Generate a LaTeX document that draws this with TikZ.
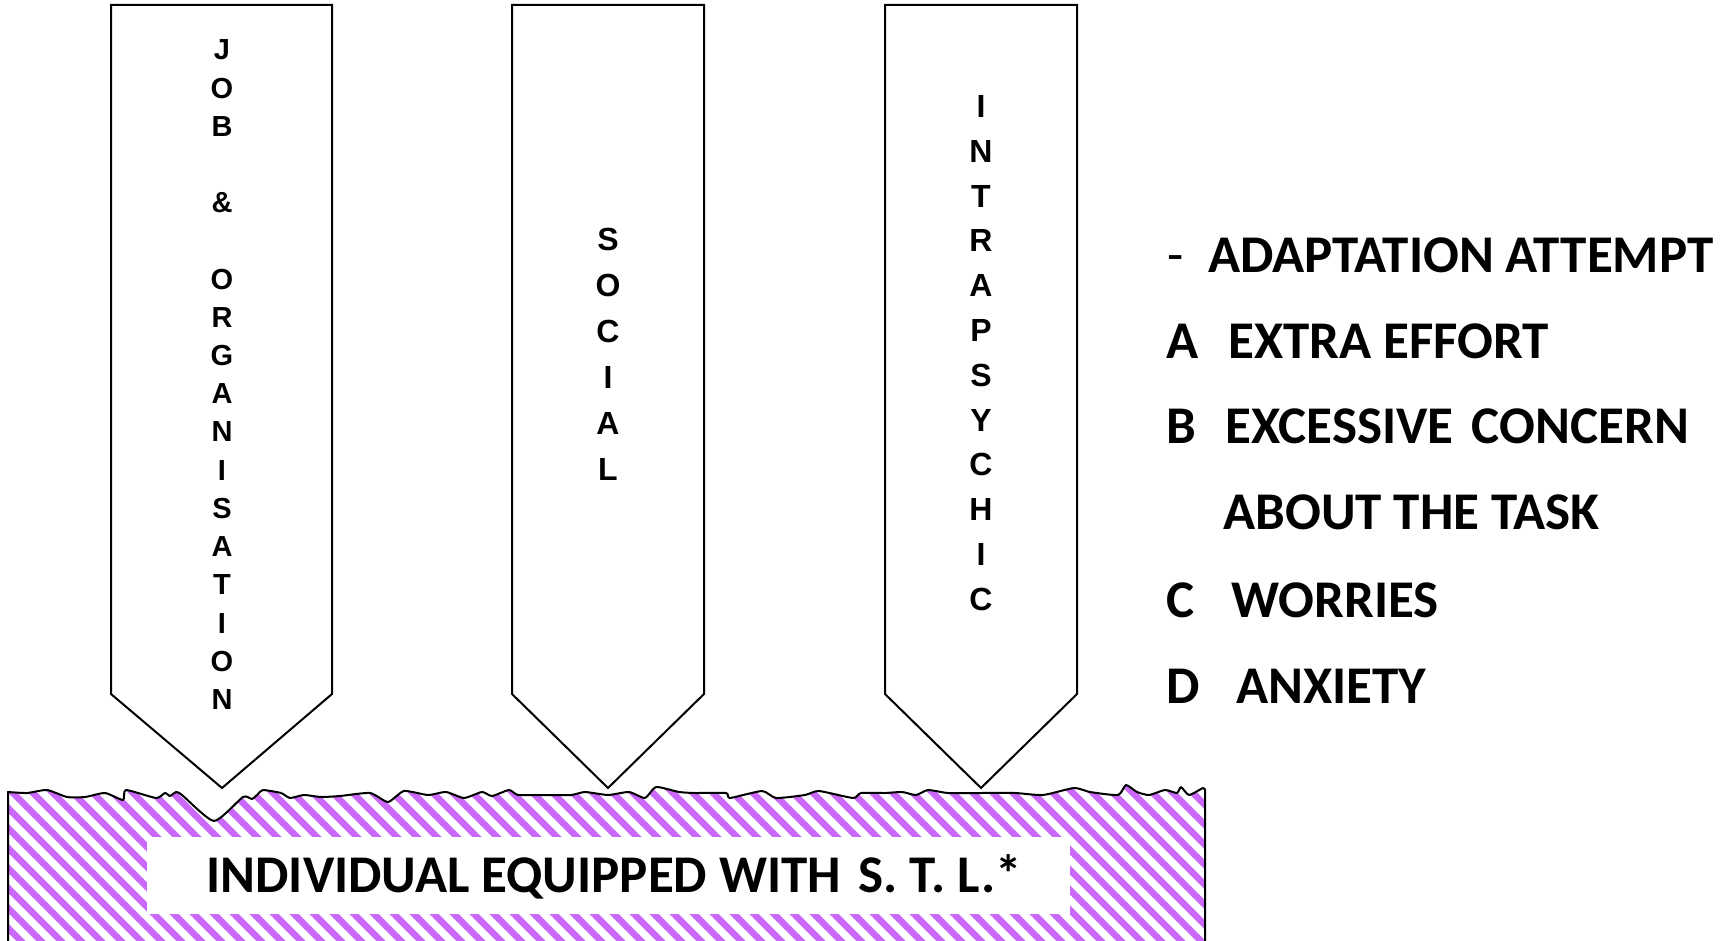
\documentclass[tikz,border=0pt]{standalone}
\usepackage{fontspec}
\setmainfont{Carlito}
\newfontfamily\pillarfont{Liberation Sans}
\begin{document}
\begin{tikzpicture}[x=0.5pt,y=-0.5pt,
  pillar/.style={draw=black, line width=1pt, fill=white, line join=miter},
  jobletter/.style={font=\pillarfont\bfseries\fontsize{14.5}{14.5}\selectfont, anchor=base, inner sep=0pt},
  vletter/.style={font=\pillarfont\bfseries\fontsize{16}{16}\selectfont, anchor=base, inner sep=0pt},
  listtext/.style={font=\bfseries\fontsize{26.5}{26.5}\selectfont, anchor=base west, inner sep=0pt},
  edge/.style={draw=black, line width=1pt, line join=round, line cap=round},
  stripe/.style={draw=hatchpurple, line width=3.3pt}]
\definecolor{hatchpurple}{RGB}{202,104,250}
\useasboundingbox (0,0) rectangle (1731,941);

% ragged upper edge of the base block
\def\edgepts{(8,792) (27,793) (47,790) (67,797) (85,797) (105,793) (123,800) (126,790)
 (156,798) (165,793) (170,796) (176,792) (182,795) (214,821) (243,797) (252,799)
 (258,794) (263,790) (281,793) (290,798) (304,795) (321,797) (340,796) (370,793)
 (388,802) (404,791) (428,795) (446,792) (464,798) (482,792) (492,796) (509,790)
 (518,795) (540,795) (571,795) (585,792) (608,795) (629,792) (645,798) (656,787)
 (679,792) (695,793) (726,793) (730,798) (762,791) (776,798) (805,795) (819,791)
 (853,798) (861,793) (885,793) (902,792) (916,795) (928,790) (948,793) (981,793)
 (1015,793) (1043,795) (1074,788) (1090,792) (1118,795) (1126,785) (1137,792)
 (1149,795) (1165,790) (1177,793) (1181,787) (1189,795) (1203,788) (1205,790)}

% striped base block
\begin{scope}
  \clip (8,945) -- plot[smooth, tension=0.35] coordinates {\edgepts} -- (1205,945) -- cycle;
  \foreach \k in {-12,...,72}
    \draw[stripe] (\k*20,760) -- (\k*20+200,960);
\end{scope}
\draw[edge] (8,945) -- plot[smooth, tension=0.35] coordinates {\edgepts} -- (1205,945);

% label of the base block
\node[fill=white, minimum width=461.5pt, minimum height=38.5pt, inner sep=0pt] (stl) at (608.5,875.5) {};
\node[listtext] (stltext) at (206,892) {INDIVIDUAL EQUIPPED WITH\hspace{0.1em} S.~T.~L.*};

% three downward pillars
\draw[pillar] (111,5) -- (332,5) -- (332,694) -- (222,788) -- (111,694) -- cycle;
\draw[pillar] (512,5) -- (704,5) -- (704,694) -- (608,788) -- (512,694) -- cycle;
\draw[pillar] (885,5) -- (1077,5) -- (1077,694) -- (981,788) -- (885,694) -- cycle;

% vertical captions
\foreach \ch [count=\i from 0] in {J,O,B,{},{\&},{},O,R,G,A,N,I,S,A,T,I,O,N}
  \node[jobletter] (job\i) at (222,60+\i*38.2) {\ch};
\foreach \ch [count=\i from 0] in {S,O,C,I,A,L}
  \node[vletter] (soc\i) at (608,250.5+\i*46) {\ch};
\foreach \ch [count=\i from 0] in {I,N,T,R,A,P,S,Y,C,H,I,C}
  \node[vletter] (intra\i) at (981,117.5+\i*44.8) {\ch};

% list of adaptation attempts
\node[listtext, font=\fontsize{26.5}{26.5}\selectfont] (dash) at (1167,273) {-};
\node[listtext] (adapt) at (1208,273) {ADAPTATION ATTEMPT};
\node[listtext] (ka) at (1166,358) {A};
\node[listtext] (ta) at (1228,358) {EXTRA EFFORT};
\node[listtext] (kb) at (1166,444) {B};
\node[listtext] (tb) at (1225,444) {EXCESSIVE\hspace{0.12em} CONCERN};
\node[listtext] (tb2) at (1223,530) {ABOUT THE TASK};
\node[listtext] (kc) at (1166,617) {C};
\node[listtext] (tc) at (1231,617) {WORRIES};
\node[listtext] (kd) at (1166,703) {D};
\node[listtext] (td) at (1236,703) {ANXIETY};
\end{tikzpicture}
\end{document}
